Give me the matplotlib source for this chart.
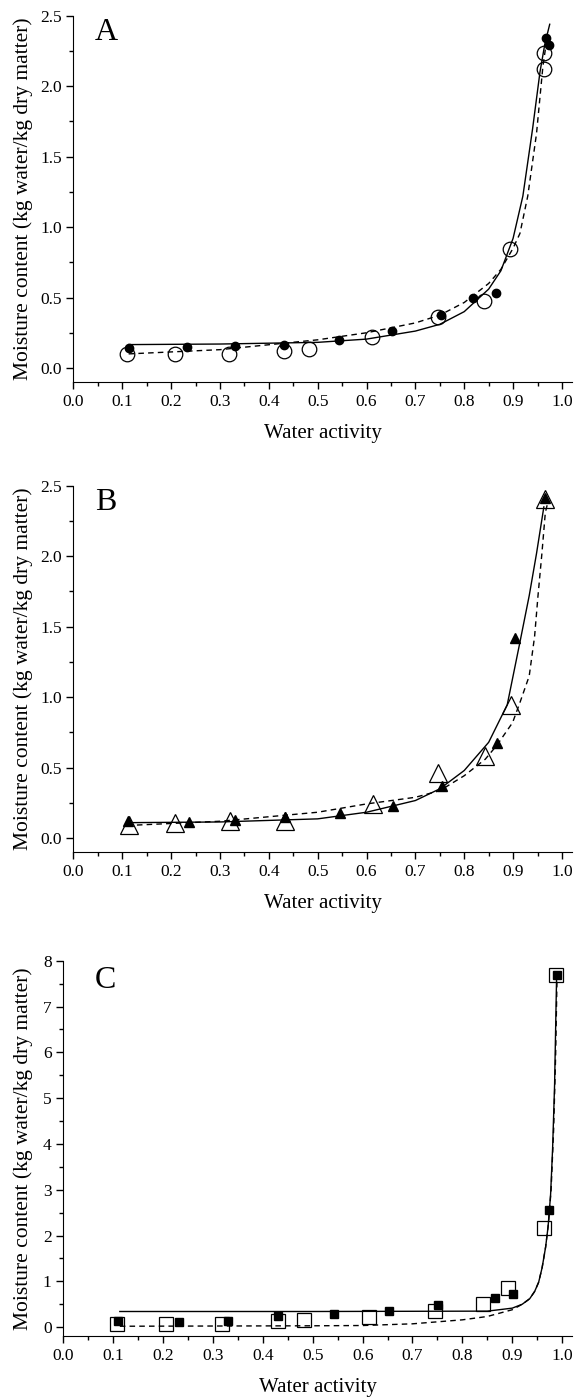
import matplotlib
matplotlib.use("Agg")
import matplotlib.pyplot as plt
from matplotlib.ticker import MultipleLocator

plt.rcParams["font.family"] = ["Liberation Serif", "DejaVu Serif"]

# --- panel A: circles ---
a_open_x = [0.110, 0.207, 0.318, 0.432, 0.482, 0.612, 0.746, 0.840, 0.893, 0.963, 0.963]
a_open_y = [0.099, 0.099, 0.099, 0.123, 0.137, 0.218, 0.360, 0.478, 0.844, 2.124, 2.235]
a_fill_x = [0.113, 0.233, 0.331, 0.432, 0.543, 0.652, 0.753, 0.817, 0.866, 0.967, 0.974]
a_fill_y = [0.142, 0.147, 0.154, 0.166, 0.201, 0.265, 0.378, 0.497, 0.532, 2.346, 2.294]
a_solid_x = [0.113, 0.30, 0.50, 0.60, 0.70, 0.75, 0.80, 0.85, 0.875, 0.90, 0.92, 0.94, 0.955, 0.965, 0.975]
a_solid_y = [0.166, 0.170, 0.182, 0.205, 0.262, 0.310, 0.400, 0.560, 0.690, 0.920, 1.220, 1.700, 2.100, 2.300, 2.440]
a_dash_x = [0.113, 0.30, 0.50, 0.60, 0.70, 0.75, 0.80, 0.85, 0.875, 0.90, 0.914, 0.93, 0.948, 0.961, 0.966]
a_dash_y = [0.100, 0.130, 0.200, 0.250, 0.320, 0.375, 0.465, 0.600, 0.700, 0.850, 0.955, 1.220, 1.665, 2.140, 2.260]

# --- panel B: triangles ---
b_open_x = [0.114, 0.208, 0.320, 0.434, 0.613, 0.747, 0.843, 0.895, 0.965]
b_open_y = [0.090, 0.108, 0.125, 0.125, 0.243, 0.462, 0.580, 0.946, 2.406]
b_fill_x = [0.112, 0.236, 0.330, 0.434, 0.545, 0.654, 0.754, 0.867, 0.903, 0.966]
b_fill_y = [0.120, 0.113, 0.130, 0.149, 0.177, 0.231, 0.373, 0.675, 1.422, 2.413]
b_solid_x = [0.110, 0.30, 0.50, 0.60, 0.70, 0.75, 0.80, 0.85, 0.888, 0.914, 0.933, 0.948, 0.963]
b_solid_y = [0.110, 0.115, 0.137, 0.184, 0.267, 0.350, 0.480, 0.680, 0.946, 1.390, 1.720, 2.020, 2.350]
b_dash_x = [0.110, 0.30, 0.50, 0.60, 0.70, 0.75, 0.80, 0.843, 0.867, 0.899, 0.914, 0.933, 0.944, 0.951, 0.959, 0.966, 0.971]
b_dash_y = [0.090, 0.120, 0.184, 0.243, 0.290, 0.337, 0.443, 0.560, 0.660, 0.820, 0.962, 1.150, 1.430, 1.720, 2.020, 2.310, 2.380]

# --- panel C: squares ---
c_open_x = [0.108, 0.206, 0.318, 0.431, 0.483, 0.613, 0.745, 0.842, 0.892, 0.963, 0.988]
c_open_y = [0.073, 0.073, 0.073, 0.124, 0.146, 0.219, 0.350, 0.510, 0.852, 2.170, 7.690]
c_fill_x = [0.110, 0.232, 0.329, 0.430, 0.542, 0.653, 0.751, 0.865, 0.902, 0.974, 0.989]
c_fill_y = [0.124, 0.109, 0.124, 0.240, 0.277, 0.350, 0.474, 0.640, 0.729, 2.565, 7.690]
c_solid_x = [0.113, 0.50, 0.85, 0.90, 0.92, 0.935, 0.945, 0.953, 0.96, 0.967, 0.972, 0.977, 0.981, 0.985, 0.989]
c_solid_y = [0.342, 0.342, 0.350, 0.415, 0.500, 0.620, 0.780, 0.980, 1.300, 1.750, 2.200, 2.900, 3.900, 5.300, 7.650]
c_dash_x = [0.113, 0.50, 0.60, 0.70, 0.80, 0.85, 0.90, 0.92, 0.935, 0.945, 0.953, 0.96, 0.967, 0.973, 0.978, 0.983, 0.987, 0.99]
c_dash_y = [0.020, 0.030, 0.036, 0.073, 0.160, 0.233, 0.380, 0.500, 0.620, 0.780, 0.980, 1.300, 1.750, 2.300, 3.000, 4.300, 5.900, 7.720]

x_ticks = [0.0, 0.1, 0.2, 0.3, 0.4, 0.5, 0.6, 0.7, 0.8, 0.9, 1.0]

fig = plt.figure(figsize=(5.74, 13.99), dpi=100)
ax_a = fig.add_axes([0.128, 0.7269, 0.868, 0.2618])
ax_b = fig.add_axes([0.128, 0.3908, 0.868, 0.2620])
ax_c = fig.add_axes([0.1106, 0.0448, 0.886, 0.2685])

dash = (0, (4, 3))

# A
ax_a.plot(a_solid_x, a_solid_y, color="black", lw=1.0)
ax_a.plot(a_dash_x, a_dash_y, color="black", lw=1.0, linestyle=dash)
ax_a.plot(a_open_x, a_open_y, "o", ms=10.5, mfc="none", mec="black", mew=0.9)
ax_a.plot(a_fill_x, a_fill_y, "o", ms=6, color="black")

# B
ax_b.plot(b_solid_x, b_solid_y, color="black", lw=1.0)
ax_b.plot(b_dash_x, b_dash_y, color="black", lw=1.0, linestyle=dash)
ax_b.plot(b_open_x, b_open_y, "^", ms=12.5, mfc="none", mec="black", mew=0.9)
ax_b.plot(b_fill_x, b_fill_y, "^", ms=7, color="black")

# C
ax_c.plot(c_solid_x, c_solid_y, color="black", lw=1.0)
ax_c.plot(c_dash_x, c_dash_y, color="black", lw=1.0, linestyle=dash)
ax_c.plot(c_open_x, c_open_y, "s", ms=10, mfc="none", mec="black", mew=0.9)
ax_c.plot(c_fill_x, c_fill_y, "s", ms=6, color="black")

for ax, letter, lx, ly in [(ax_a, "A", 0.043, 0.955), (ax_b, "B", 0.043, 0.955), (ax_c, "C", 0.062, 0.946)]:
    ax.spines["top"].set_visible(False)
    ax.spines["right"].set_visible(False)
    ax.set_xlim(0, 1.02)
    ax.set_xticks(x_ticks)
    ax.set_xticklabels([f"{t:.1f}" for t in x_ticks])
    ax.xaxis.set_minor_locator(MultipleLocator(0.05))
    ax.tick_params(which="major", direction="out", length=5, width=1, labelsize=12.5)
    ax.tick_params(which="minor", direction="out", length=3, width=1)
    ax.set_xlabel("Water activity", fontsize=15, labelpad=10)
    ax.text(lx, ly, letter, transform=ax.transAxes, fontsize=23, va="center")

for ax in (ax_a, ax_b):
    ax.set_ylim(-0.1, 2.5)
    ax.yaxis.set_major_locator(MultipleLocator(0.5))
    ax.yaxis.set_minor_locator(MultipleLocator(0.25))
    ax.yaxis.set_major_formatter(lambda v, p: f"{v:.1f}")
    ax.set_ylabel("Moisture content (kg water/kg dry matter)", fontsize=15.5, labelpad=5)

ax_c.set_ylim(-0.2, 8)
ax_c.yaxis.set_major_locator(MultipleLocator(1))
ax_c.yaxis.set_minor_locator(MultipleLocator(0.5))
ax_c.set_ylabel("Moisture content (kg water/kg dry matter)", fontsize=15.5, labelpad=7)

fig.savefig("out.png", dpi=100)
